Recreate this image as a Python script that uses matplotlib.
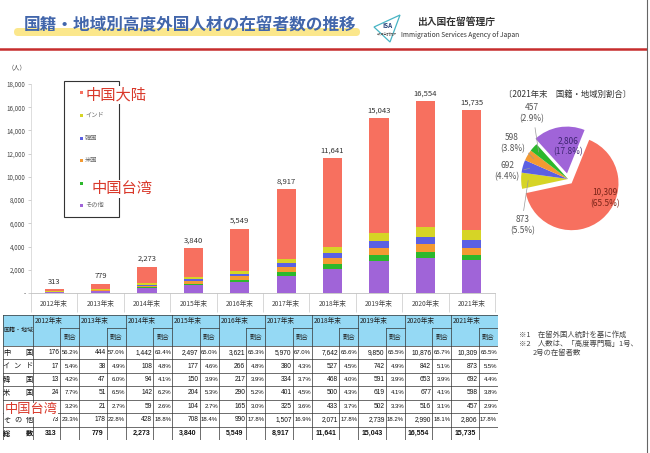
import numpy as np
import matplotlib
matplotlib.use('Agg')
import matplotlib.pyplot as plt
from matplotlib.patches import Rectangle, FancyBboxPatch, Polygon

plt.rcParams['font.family'] = ['Noto Sans CJK JP', 'DejaVu Sans']
NUMF = ['Liberation Sans', 'DejaVu Sans']

W, H = 650, 453

# ---- data (from the table under the chart) ----
years = ['2012年末', '2013年末', '2014年末', '2015年末', '2016年末',
         '2017年末', '2018年末', '2019年末', '2020年末', '2021年末']
groups = ['中国', 'インド', '韓国', '米国', '台湾', 'その他']
row_labels = ['中国', 'インド', '韓国', '米国', '台湾', 'その他', '総数']

china = [176, 444, 1442, 2497, 3621, 5970, 7642, 9850, 10876, 10309]
india = [17, 38, 108, 177, 266, 380, 527, 742, 842, 873]
korea = [13, 47, 94, 150, 217, 334, 468, 591, 653, 692]
usa = [24, 51, 142, 204, 290, 401, 500, 619, 677, 598]
taiwan = [10, 21, 59, 104, 165, 325, 433, 502, 516, 457]
other = [73, 178, 428, 708, 990, 1507, 2071, 2739, 2990, 2806]
totals = [313, 779, 2273, 3840, 5549, 8917, 11641, 15043, 16554, 15735]

pct_china = [56.2, 57.0, 63.4, 65.0, 65.3, 67.0, 65.6, 65.5, 65.7, 65.5]
pct_india = [5.4, 4.9, 4.8, 4.6, 4.8, 4.3, 4.5, 4.9, 5.1, 5.5]
pct_korea = [4.2, 6.0, 4.1, 3.9, 3.9, 3.7, 4.0, 3.9, 3.9, 4.4]
pct_usa = [7.7, 6.5, 6.2, 5.3, 5.2, 4.5, 4.3, 4.1, 4.1, 3.8]
pct_taiwan = [3.2, 2.7, 2.6, 2.7, 3.0, 3.6, 3.7, 3.3, 3.1, 2.9]
pct_other = [23.3, 22.8, 18.8, 18.4, 17.8, 16.9, 17.8, 18.2, 18.1, 17.8]

colors = ['#f7705f', '#d6d426', '#5b60e3', '#f39a32', '#2cb82c', '#a064d8']

counts = [china, india, korea, usa, taiwan, other]
pcts = [pct_china, pct_india, pct_korea, pct_usa, pct_taiwan, pct_other]


def rect(x0, y0, x1, y1):
    return [x0 / W, 1 - y1 / H, (x1 - x0) / W, (y1 - y0) / H]


fig = plt.figure(figsize=(W / 100, H / 100), dpi=100)
fig.patch.set_facecolor('white')

# ---- stacked bars ----
ax = fig.add_axes(rect(31, 84, 495, 293))
x = np.arange(len(years))
bottom = np.zeros(len(years))
for i in [5, 4, 3, 2, 1, 0]:
    ax.bar(x, counts[i], 0.41, bottom=bottom, color=colors[i], linewidth=0)
    bottom += np.array(counts[i])
for xi, t in zip(x, totals):
    ax.annotate(f'{t:,}', (xi, t), xytext=(0, 2.5), textcoords='offset points',
                ha='center', va='bottom', fontsize=5.5, color='#333')
ax.set_xlim(-0.5, 9.5)
ax.set_ylim(0, 18000)
yt = np.arange(0, 18001, 2000)
ax.set_yticks(yt)
ax.set_yticklabels(['-'] + [f'{v:,}' for v in yt[1:]], fontsize=4.5, color='#444')
ax.tick_params(axis='y', length=2, width=0.5, color='#bbb', pad=2)
ax.set_xticks(np.arange(-0.5, 10, 1))
ax.set_xticklabels([])
ax.tick_params(axis='x', which='major', length=14, width=0.5, color='#c8c8c8')
ax.set_xticks(x, minor=True)
ax.set_xticklabels(years, minor=True, fontsize=4.8, color='#444')
ax.tick_params(axis='x', which='minor', length=0, pad=5)
for s in ['top', 'right']:
    ax.spines[s].set_visible(False)
ax.spines['left'].set_color('#d0d0d0')
ax.spines['left'].set_linewidth(0.5)
ax.spines['bottom'].set_color('#c0c0c0')
ax.spines['bottom'].set_linewidth(0.6)

# ---- pie for 2021 ----
pa = fig.add_axes(rect(568 - 75, 179 - 75, 568 + 75, 179 + 75))
last = [c[-1] for c in counts]
last_pct = [p[-1] for p in pcts]
wedges, _ = pa.pie(last, colors=colors, startangle=68, counterclock=False,
                   explode=[0.12, 0, 0, 0, 0, 0.12], wedgeprops=dict(linewidth=0))
pa.set_xlim(-1.6, 1.6)
pa.set_ylim(-1.6, 1.6)
pa.text(0.79, -0.40, f'{last[0]:,}\n({last_pct[0]}%)', ha='center', va='center',
        fontsize=6, color='#7a2418', linespacing=1.3)
pa.text(0.0, 0.70, f'{last[5]:,}\n({last_pct[5]}%)', ha='center', va='center',
        fontsize=6, color='#3d2470', linespacing=1.3)
out_pos = {1: ((-0.96, -0.98), (0.5, 1)), 2: ((-1.30, 0.17), (1, 0.5)),
           3: ((-1.19, 0.77), (1, 0.2)), 4: ((-0.77, 1.40), (0.6, 0))}
for i, (pos, rp) in out_pos.items():
    w = wedges[i]
    mid = np.deg2rad((w.theta1 + w.theta2) / 2)
    cx, cy = w.center
    pa.annotate(f'{last[i]:,}\n({last_pct[i]}%)',
                (cx + 0.85 * np.cos(mid), cy + 0.85 * np.sin(mid)),
                xytext=pos, ha='center', va='center', fontsize=6, color='#555',
                linespacing=1.3,
                arrowprops=dict(arrowstyle='-', color='#999', lw=0.5,
                                shrinkA=1, shrinkB=0, relpos=rp))

# ---- table ----
ta = fig.add_axes(rect(3, 315, 498, 440))
LW, BW, CW = 30, 46.5, 27.5
HH, RH = 31, (125 - 31) / 7
ta.set_xlim(0, LW + BW * 10)
ta.set_ylim(125, 0)
ta.axis('off')
ta.add_patch(Rectangle((0, 0), LW + BW * 10, HH, color='#95d9f4', lw=0))
lc = dict(color='#333', lw=0.5)
for k in range(8):
    ta.plot([0, LW + BW * 10], [HH + k * RH] * 2, **lc)
ta.plot([0, LW + BW * 10], [0, 0], **lc)
ta.plot([0, 0], [0, 125], **lc)
ta.plot([LW + BW * 10] * 2, [0, 125], **lc)
ta.text(LW / 2, HH / 2, '国籍・地域', ha='center', va='center', fontsize=4.3, color='#222')
hidden = {(4, 0)}  # cell covered by the red note in the picture
for j, yr in enumerate(years):
    x0 = LW + j * BW
    ta.plot([x0, x0], [0, 125], **lc)
    ta.plot([x0 + CW] * 2, [13, 125], **lc)
    ta.plot([x0 + CW, x0 + BW], [13, 13], **lc)
    ta.text(x0 + 1.5, 6.5, yr, ha='left', va='center', fontsize=4.8, color='#222')
    ta.text(x0 + CW + (BW - CW) / 2, 22, '割合', ha='center', va='center', fontsize=4.6, color='#222')
    for r in range(6):
        yc = HH + (r + 0.5) * RH
        if (r, j) not in hidden:
            ta.text(x0 + CW - 1.3, yc, f'{counts[r][j]:,}', ha='right', va='center',
                    fontsize=4.8, family=NUMF, color='#111')
        ta.text(x0 + BW - 0.9, yc, f'{pcts[r][j]:.1f}%', ha='right', va='center',
                fontsize=4.3, family=NUMF, color='#111')
    ta.text(x0 + CW - 3.5, HH + 6.5 * RH, f'{totals[j]:,}', ha='right', va='center',
            fontsize=5.0, family=NUMF, fontweight='bold', color='#111')
for r, lab in enumerate(row_labels):
    if r == 4:
        continue  # label covered by the red note
    yc = HH + (r + 0.5) * RH
    xs = np.linspace(3.5, LW - 3.5, len(lab))
    for ch, xc in zip(lab, xs):
        ta.text(xc, yc, ch, ha='center', va='center', fontsize=5.2, color='#111',
                fontweight='bold' if r == 6 else 'normal')

# ---- decorations on a full-figure canvas ----
cv = fig.add_axes([0, 0, 1, 1], zorder=5)
cv.set_xlim(0, W)
cv.set_ylim(H, 0)
cv.axis('off')
cv.patch.set_alpha(0)

# header
cv.add_patch(FancyBboxPatch((14, 28), 346, 8, boxstyle='round,pad=0,rounding_size=4',
                            color='#fbe78c', lw=0, zorder=1))
cv.text(190, 25, '国籍・地域別高度外国人材の在留者数の推移', ha='center', va='center',
        fontsize=12, fontweight='bold', color='#4266ab', zorder=2)
cv.add_patch(Polygon([[374, 27], [400, 15], [390, 42]], closed=True, fill=False,
                     edgecolor='#48b4c4', lw=0.9))
cv.text(387, 26, 'ISA', ha='center', va='center', fontsize=4.5, fontweight='bold', color='#22407a')
cv.text(387, 34, '出入国在留管理庁', ha='center', va='center', fontsize=1.8, color='#555')
cv.text(456, 22, '出入国在留管理庁', ha='center', va='center', fontsize=7, fontweight='bold', color='#333')
cv.text(460, 35, 'Immigration Services Agency of Japan', ha='center', va='center',
        fontsize=4.8, color='#333')
cv.plot([0, 646], [49, 49], color='#c62d2d', lw=1.8)
cv.plot([647, 647], [0, H], color='#666', lw=0.8)

# y-axis unit
cv.text(17, 67, '（人）', ha='center', va='center', fontsize=4.5, color='#444')

# legend (entries 0 and 4 are covered by the red notes)
cv.add_patch(Rectangle((64, 81), 55, 136, fill=False, edgecolor='#333', lw=0.8))
leg_y = [92, 115, 138, 160, 183, 205]
for k, (g, c, yy) in enumerate(zip(groups, colors, leg_y)):
    cv.add_patch(Rectangle((79.5, yy - 1.5), 3, 3, color=c, lw=0))
    if k not in (0, 4):
        cv.text(85, yy, g, ha='left', va='center', fontsize=4.5, color='#666')

# red notes
ov = dict(color='#d9392b', family=['Noto Sans CJK SC', 'DejaVu Sans'], ha='center', va='center',
          bbox=dict(facecolor='white', edgecolor='none', pad=0.3), zorder=6)
cv.text(116, 95, '中国大陆', fontsize=11, **ov)
cv.text(122, 189, '中国台湾', fontsize=11, **ov)
cv.text(31, 410, '中国台湾', fontsize=9.5, **ov)

# pie title
cv.text(568, 94, '〔2021年末　国籍・地域別割合〕', ha='center', va='center', fontsize=6, color='#333')

# notes
cv.text(519, 335, '※1　在留外国人統計を基に作成', ha='left', va='center', fontsize=5.3, color='#444')
cv.text(519, 344, '※2　人数は、「高度専門職」1号、', ha='left', va='center', fontsize=5.3, color='#444')
cv.text(533, 353, '2号の在留者数', ha='left', va='center', fontsize=5.3, color='#444')

fig.savefig('out.png', dpi=100, facecolor='white')
